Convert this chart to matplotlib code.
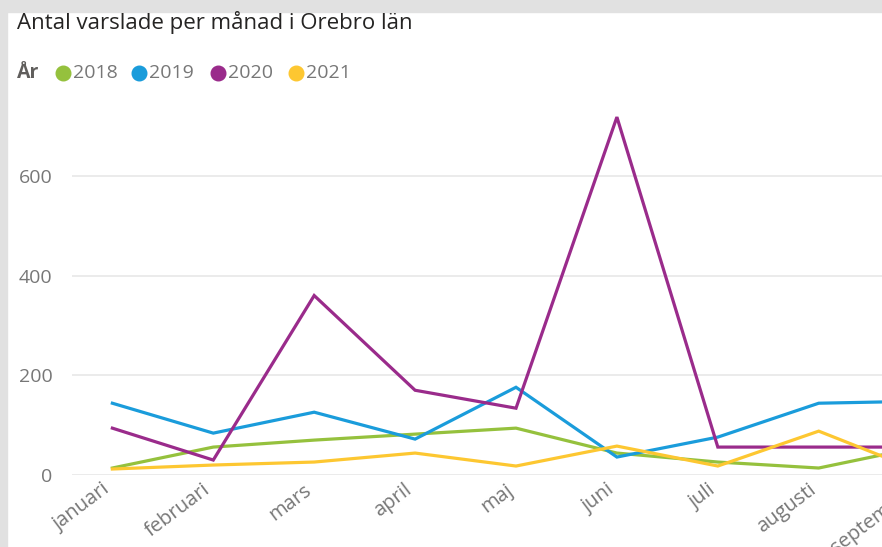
import matplotlib.pyplot as plt
import matplotlib.transforms as mtransforms
from matplotlib.lines import Line2D
from matplotlib.patches import Rectangle

months = ["januari", "februari", "mars", "april", "maj", "juni", "juli", "augusti", "september"]
years = ["2018", "2019", "2020", "2021"]
colors = ["#95C13D", "#1A9CDB", "#9A2B8B", "#FDC731"]

v2018 = [14, 56, 70, 82, 94, 44, 26, 14, 56]
v2019 = [144, 84, 126, 72, 176, 36, 76, 144, 148]
v2020 = [94, 30, 360, 170, 134, 718, 56, 56, 56]
v2021 = [12, 20, 26, 44, 18, 58, 18, 88, 8]
series = [v2018, v2019, v2020, v2021]

yticks = [0, 200, 400, 600]

W, H = 882, 547
plt.rcParams['font.family'] = ['Open Sans', 'DejaVu Sans']
fig = plt.figure(figsize=(W / 100, H / 100), dpi=100)
fig.patch.set_facecolor("white")

# grey frame from the screenshot (top and left)
fig.patches.append(Rectangle((0, 1 - 12 / H), 1, 12 / H, transform=fig.transFigure,
                             color="#E1E1E1", zorder=0))
fig.patches.append(Rectangle((0, 0), 7 / W, 1, transform=fig.transFigure,
                             color="#E1E1E1", zorder=0))

# plot area in pixels: left 72, right 960 (cropped), top 110, bottom 475
left, right, top, bottom = 72, 960, 110, 475
ax = fig.add_axes([left / W, 1 - bottom / H, (right - left) / W, (bottom - top) / H])
ax.set_facecolor("none")

x = list(range(len(months)))
for vals, c in zip(series, colors):
    ax.plot(x, vals, color=c, lw=2.3, solid_joinstyle="miter", zorder=3)

ax.set_xlim(-0.4, len(months) - 1 + 0.4)
ax.set_ylim(0, (bottom - top) * 2.006)
ax.set_yticks(yticks)
ax.set_yticklabels([str(t) for t in yticks], fontsize=14, color="#777777")
ax.set_xticks(x)
ax.set_xticklabels([])
ax.tick_params(axis="y", length=0, pad=14)
ax.tick_params(axis="x", length=0)
ax.grid(axis="y", color="#E9E9E9", lw=1.3)
ax.set_axisbelow(True)
for s in ax.spines.values():
    s.set_visible(False)

# rotated month labels, drawn as text so they can be nudged
xtrans = mtransforms.blended_transform_factory(ax.transData, ax.transAxes)
nudge = mtransforms.ScaledTranslation(-11 / 100, -5 / 100, fig.dpi_scale_trans)
for i, m in enumerate(months):
    ax.text(i, 0, m, transform=xtrans + nudge, rotation=37, ha="right", va="top",
            rotation_mode="anchor", fontsize=14.5, color="#777777", clip_on=False)

# title
fig.text(17 / W, 1 - 22 / H, "Antal varslade per månad i Orebro län", fontsize=16,
         color="#252423", va="center", ha="left")

# legend
ly = 1 - 73 / H
fig.text(17 / W, ly, "År", fontsize=14, fontweight="bold", color="#605E5C",
         va="center", ha="left")
lx = [63, 139, 218, 296]
for px, yr, c in zip(lx, years, colors):
    fig.add_artist(Line2D([px / W], [ly], marker="o", markersize=10.5, color=c,
                          transform=fig.transFigure))
    fig.text((px + 10) / W, ly, yr, fontsize=14, color="#777777", va="center", ha="left")

fig.savefig("out.png", dpi=100)
